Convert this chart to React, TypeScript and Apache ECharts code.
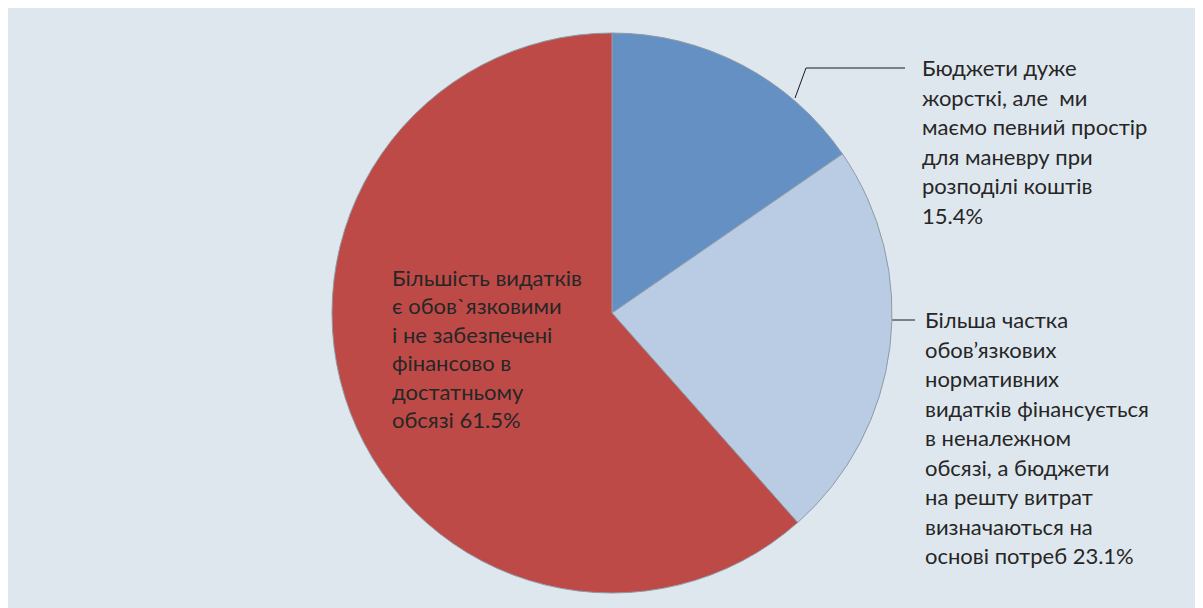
import React, { useEffect, useRef } from "react";
import * as echarts from "echarts";

const categories = [
  "Бюджети дуже\nжорсткі, але  ми\nмаємо певний простір\nдля маневру при\nрозподілі коштів\n15.4%",
  "Більша частка\nобов’язкових\nнормативних\nвидатків фінансується\nв неналежном\nобсязі, а бюджети\nна решту витрат\nвизначаються на\nоснові потреб 23.1%",
  "Більшість видатків\nє обов`язковими\nі не забезпечені\nфінансово в\nдостатньому\nобсязі 61.5%",
];
const values = [2, 3, 8];
const colors = ["#6590c4", "#b9cce4", "#be4a47"];

export default function App() {
  const ref = useRef<HTMLDivElement>(null);
  useEffect(() => {
    if (!ref.current) return;
    const chart = echarts.init(ref.current, undefined, { renderer: "svg" });
    const fontFamily = "Lato, 'Open Sans', sans-serif";
    chart.setOption({
      animation: false,
      backgroundColor: "#dfe7ee",
      series: [
        {
          type: "pie",
          center: [604, 305],
          radius: 280,
          startAngle: 90,
          clockwise: true,
          avoidLabelOverlap: false,
          itemStyle: { borderColor: "#8e9aa5", borderWidth: 1 },
          label: {
            show: true,
            formatter: "{b}",
            color: "#262626",
            fontSize: 22,
            fontFamily,
            lineHeight: 29.5,
            align: "left",
          },
          labelLine: {
            show: true,
            lineStyle: { color: "#1a1a1a", width: 1 },
          },
          labelLayout: (p: any) => {
            if (p.dataIndex === 0) {
              return {
                x: 914,
                y: 45,
                align: "left",
                verticalAlign: "top",
                labelLinePoints: [
                  [787, 90],
                  [798, 60],
                  [897, 60],
                ],
              };
            }
            if (p.dataIndex === 1) {
              return {
                x: 917,
                y: 297,
                align: "left",
                verticalAlign: "top",
                labelLinePoints: [
                  [884, 312],
                  [895, 312],
                  [907, 312],
                ],
              };
            }
            return {
              x: 384,
              y: 255,
              align: "left",
              verticalAlign: "top",
            };
          },
          data: values.map((v, i) => ({
            name: categories[i],
            value: v,
            itemStyle: { color: colors[i] },
            label:
              i === 2
                ? { position: "inside", lineHeight: 28.5 }
                : { position: "outside" },
            labelLine: { show: i !== 2 },
          })),
        },
      ],
    });
    return () => chart.dispose();
  }, []);
  return <div ref={ref} style={{ width: 1195, height: 600 }} />;
}
